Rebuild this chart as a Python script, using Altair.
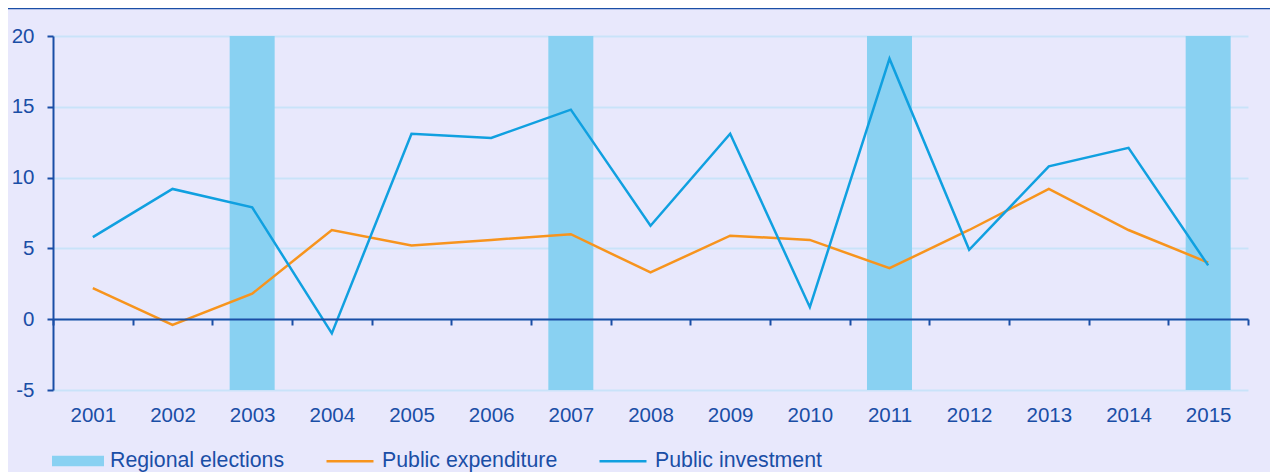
import altair as alt
import pandas as pd

years = [str(y) for y in range(2001, 2016)]
public_expenditure = [2.2, -0.4, 1.8, 6.3, 5.2, 5.6, 6.0, 3.3, 5.9, 5.6, 3.6, 6.3, 9.2, 6.3, 4.0]
public_investment = [5.8, 9.2, 7.9, -1.0, 13.1, 12.8, 14.8, 6.6, 13.1, 0.85, 18.4, 4.9, 10.8, 12.1, 3.8]
election_years = ["2003", "2007", "2011", "2015"]
election_top = 20
election_bottom = -5

TEXT = "#1A4EA6"
AXIS = "#1A4EA6"
GRID = "#C9E3F9"
BG = "#E8E8FC"
BAR = "#89D1F2"
ORANGE = "#F7941D"
BLUE = "#10A0E0"
FONT = "Liberation Sans"

lines_df = pd.DataFrame({
    "year": years * 2,
    "value": public_expenditure + public_investment,
    "series": ["Public expenditure"] * len(years) + ["Public investment"] * len(years),
})
bars_df = pd.DataFrame({
    "year": election_years,
    "top": [election_top] * len(election_years),
    "bottom": [election_bottom] * len(election_years),
    "kind": ["Regional elections"] * len(election_years),
})

x_scale = alt.Scale(domain=years, paddingInner=0, paddingOuter=0)
y_scale = alt.Scale(domain=[-5, 20], nice=False, zero=False)

x_axis = alt.Axis(
    title=None, offset=-71, tickBand="extent", tickSize=6, tickWidth=2,
    tickColor=AXIS, domainColor=AXIS, domainWidth=2, labelPadding=80,
    labelFontSize=20.5, labelColor=TEXT, labelFont=FONT, grid=False,
    labelAngle=0, zindex=1,
)
y_axis = alt.Axis(
    title=None, values=[-5, 0, 5, 10, 15, 20], tickSize=6, tickWidth=2,
    tickColor=AXIS, domainColor=AXIS, domainWidth=2, labelPadding=13,
    labelFontSize=20.5, labelColor=TEXT, labelFont=FONT, grid=True,
    gridColor=GRID, gridWidth=2,
    labelExpr="replace(datum.label, '\u2212', '-')",
)

bars = alt.Chart(bars_df).mark_bar(width=alt.RelativeBandSize(0.565), opacity=1).encode(
    x=alt.X("year:O", scale=x_scale, axis=x_axis),
    y=alt.Y("top:Q", scale=y_scale, axis=y_axis),
    y2="bottom:Q",
    fill=alt.Fill("kind:N", scale=alt.Scale(domain=["Regional elections"], range=[BAR]),
                  legend=alt.Legend(
                      title=None, orient="none", legendX=-1, legendY=399,
                      symbolType="M-1,-0.2L1,-0.2L1,0.2L-1,0.2Z", symbolSize=2704,
                      symbolStrokeWidth=0, labelFontSize=21.3, labelFont=FONT,
                      labelColor=TEXT, labelOffset=6, labelLimit=400,
                  )),
)

lines = alt.Chart(lines_df).mark_line(strokeWidth=2.5).encode(
    x=alt.X("year:O", scale=x_scale, axis=x_axis),
    y=alt.Y("value:Q", scale=y_scale, axis=y_axis),
    stroke=alt.Stroke("series:N",
                      scale=alt.Scale(domain=["Public expenditure", "Public investment"],
                                      range=[ORANGE, BLUE]),
                      legend=alt.Legend(
                          title=None, orient="none", legendX=272, legendY=400,
                          direction="horizontal", columnPadding=36,
                          symbolType="M-1,0L1,0", symbolSize=2209, symbolStrokeWidth=2.5,
                          labelFontSize=21.3, labelFont=FONT, labelColor=TEXT, labelOffset=7,
                          labelLimit=400,
                      )),
    order=alt.Order("series:N"),
)

top_rule = alt.Chart(pd.DataFrame({"k": [0]})).mark_rule(color=AXIS, strokeWidth=2.5).encode(
    x=alt.value(-46), x2=alt.value(1240), y=alt.value(-28)
)

chart = alt.layer(bars, lines, top_rule).resolve_scale(
    fill="independent", stroke="independent"
).properties(
    width=1195, height=354,
    padding={"left": 45, "top": 28, "right": 22, "bottom": 82},
    autosize=alt.AutoSizeParams(type="none"),
    background=BG,
).configure_view(stroke=None).configure_axis(labelFont=FONT)

chart.save("out.html", embed_options={"renderer": "svg", "actions": False})
